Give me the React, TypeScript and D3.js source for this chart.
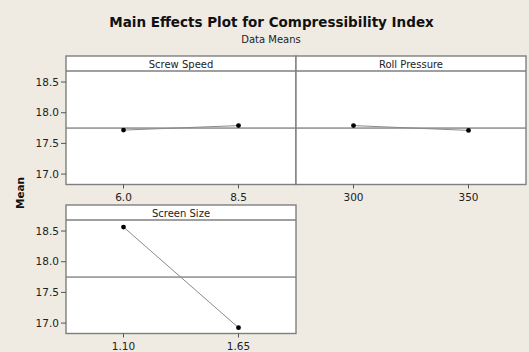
import React from "react";
import * as d3 from "d3";

const title = "Main Effects Plot for Compressibility Index";
const subtitle = "Data Means";
const yLabel = "Mean";
const factorNames = ["Screw Speed", "Roll Pressure", "Screen Size"];
const factorLevels = [["6.0", "8.5"], ["300", "350"], ["1.10", "1.65"]];
const factorMeans = [[17.717, 17.79], [17.79, 17.712], [18.565, 16.925]];
const grandMean = 17.75;
const yTicks = [17.0, 17.5, 18.0, 18.5];
const yDomain: [number, number] = [16.83, 18.68];

const W = 529;
const H = 352;
const BG = "#EFEBE2";
const FONT = "'DejaVu Sans', Verdana, sans-serif";

const panels = [
  { x0: 66, x1: 296, top: 56, row: 0, col: 0 },
  { x0: 296, x1: 526, top: 56, row: 0, col: 1 },
  { x0: 66, x1: 296, top: 205, row: 1, col: 0 },
];
const STRIP = 15;
const PLOT_H = 113.5;

export default function App() {
  return (
    <svg width={W} height={H} style={{ display: "block", position: "absolute", left: 0, top: 0 }}>
      <rect x={0} y={0} width={W} height={H} fill={BG} />
      <text x={271.5} y={26.5} textAnchor="middle" fontFamily={FONT} fontWeight="bold" fontSize={13.5} fill="#111">
        {title}
      </text>
      <text x={271} y={43} textAnchor="middle" fontFamily={FONT} fontSize={10} fill="#222">
        {subtitle}
      </text>
      <text
        transform="translate(24,193) rotate(-90)"
        textAnchor="middle"
        fontFamily={FONT}
        fontWeight="bold"
        fontSize={10.5}
        fill="#111"
      >
        {yLabel}
      </text>
      {panels.map((p, i) => {
        const plotTop = p.top + STRIP;
        const plotBottom = plotTop + PLOT_H;
        const y = d3.scaleLinear().domain(yDomain).range([plotBottom, plotTop]);
        const x = d3
          .scalePoint<string>()
          .domain(factorLevels[i])
          .range([p.x0, p.x1])
          .padding(0.5);
        const line = d3
          .line<number>()
          .x((_, j) => x(factorLevels[i][j]) as number)
          .y((v) => y(v));
        return (
          <g key={i}>
            <rect x={p.x0} y={p.top} width={p.x1 - p.x0} height={STRIP + PLOT_H} fill="#fff" />
            <line x1={p.x0} x2={p.x1} y1={y(grandMean)} y2={y(grandMean)} stroke="#555" strokeWidth={1} />
            <path d={line(factorMeans[i]) || ""} fill="none" stroke="#8a8a8a" strokeWidth={1} />
            {factorMeans[i].map((v, j) => (
              <circle key={j} cx={x(factorLevels[i][j]) as number} cy={y(v)} r={2.4} fill="#000" />
            ))}
            <line x1={p.x0} x2={p.x1} y1={plotTop} y2={plotTop} stroke="#7f7f7f" strokeWidth={1.4} />
            <rect
              x={p.x0}
              y={p.top}
              width={p.x1 - p.x0}
              height={STRIP + PLOT_H}
              fill="none"
              stroke="#7f7f7f"
              strokeWidth={1.4}
            />
            <text
              x={(p.x0 + p.x1) / 2}
              y={p.top + 11.5}
              textAnchor="middle"
              fontFamily={FONT}
              fontSize={10}
              fill="#222"
            >
              {factorNames[i]}
            </text>
            {p.col === 0 &&
              yTicks.map((t) => (
                <g key={t}>
                  <line x1={p.x0 - 5} x2={p.x0} y1={y(t)} y2={y(t)} stroke="#555" />
                  <text
                    x={p.x0 - 7}
                    y={y(t) + 3.7}
                    textAnchor="end"
                    fontFamily={FONT}
                    fontSize={10.5}
                    fill="#222"
                  >
                    {d3.format(".1f")(t)}
                  </text>
                </g>
              ))}
            {factorLevels[i].map((l) => (
              <g key={l}>
                <line
                  x1={x(l) as number}
                  x2={x(l) as number}
                  y1={plotBottom}
                  y2={plotBottom + 4}
                  stroke="#555"
                />
                <text
                  x={x(l) as number}
                  y={plotBottom + 16.5}
                  textAnchor="middle"
                  fontFamily={FONT}
                  fontSize={10.5}
                  fill="#222"
                >
                  {l}
                </text>
              </g>
            ))}
          </g>
        );
      })}
    </svg>
  );
}
